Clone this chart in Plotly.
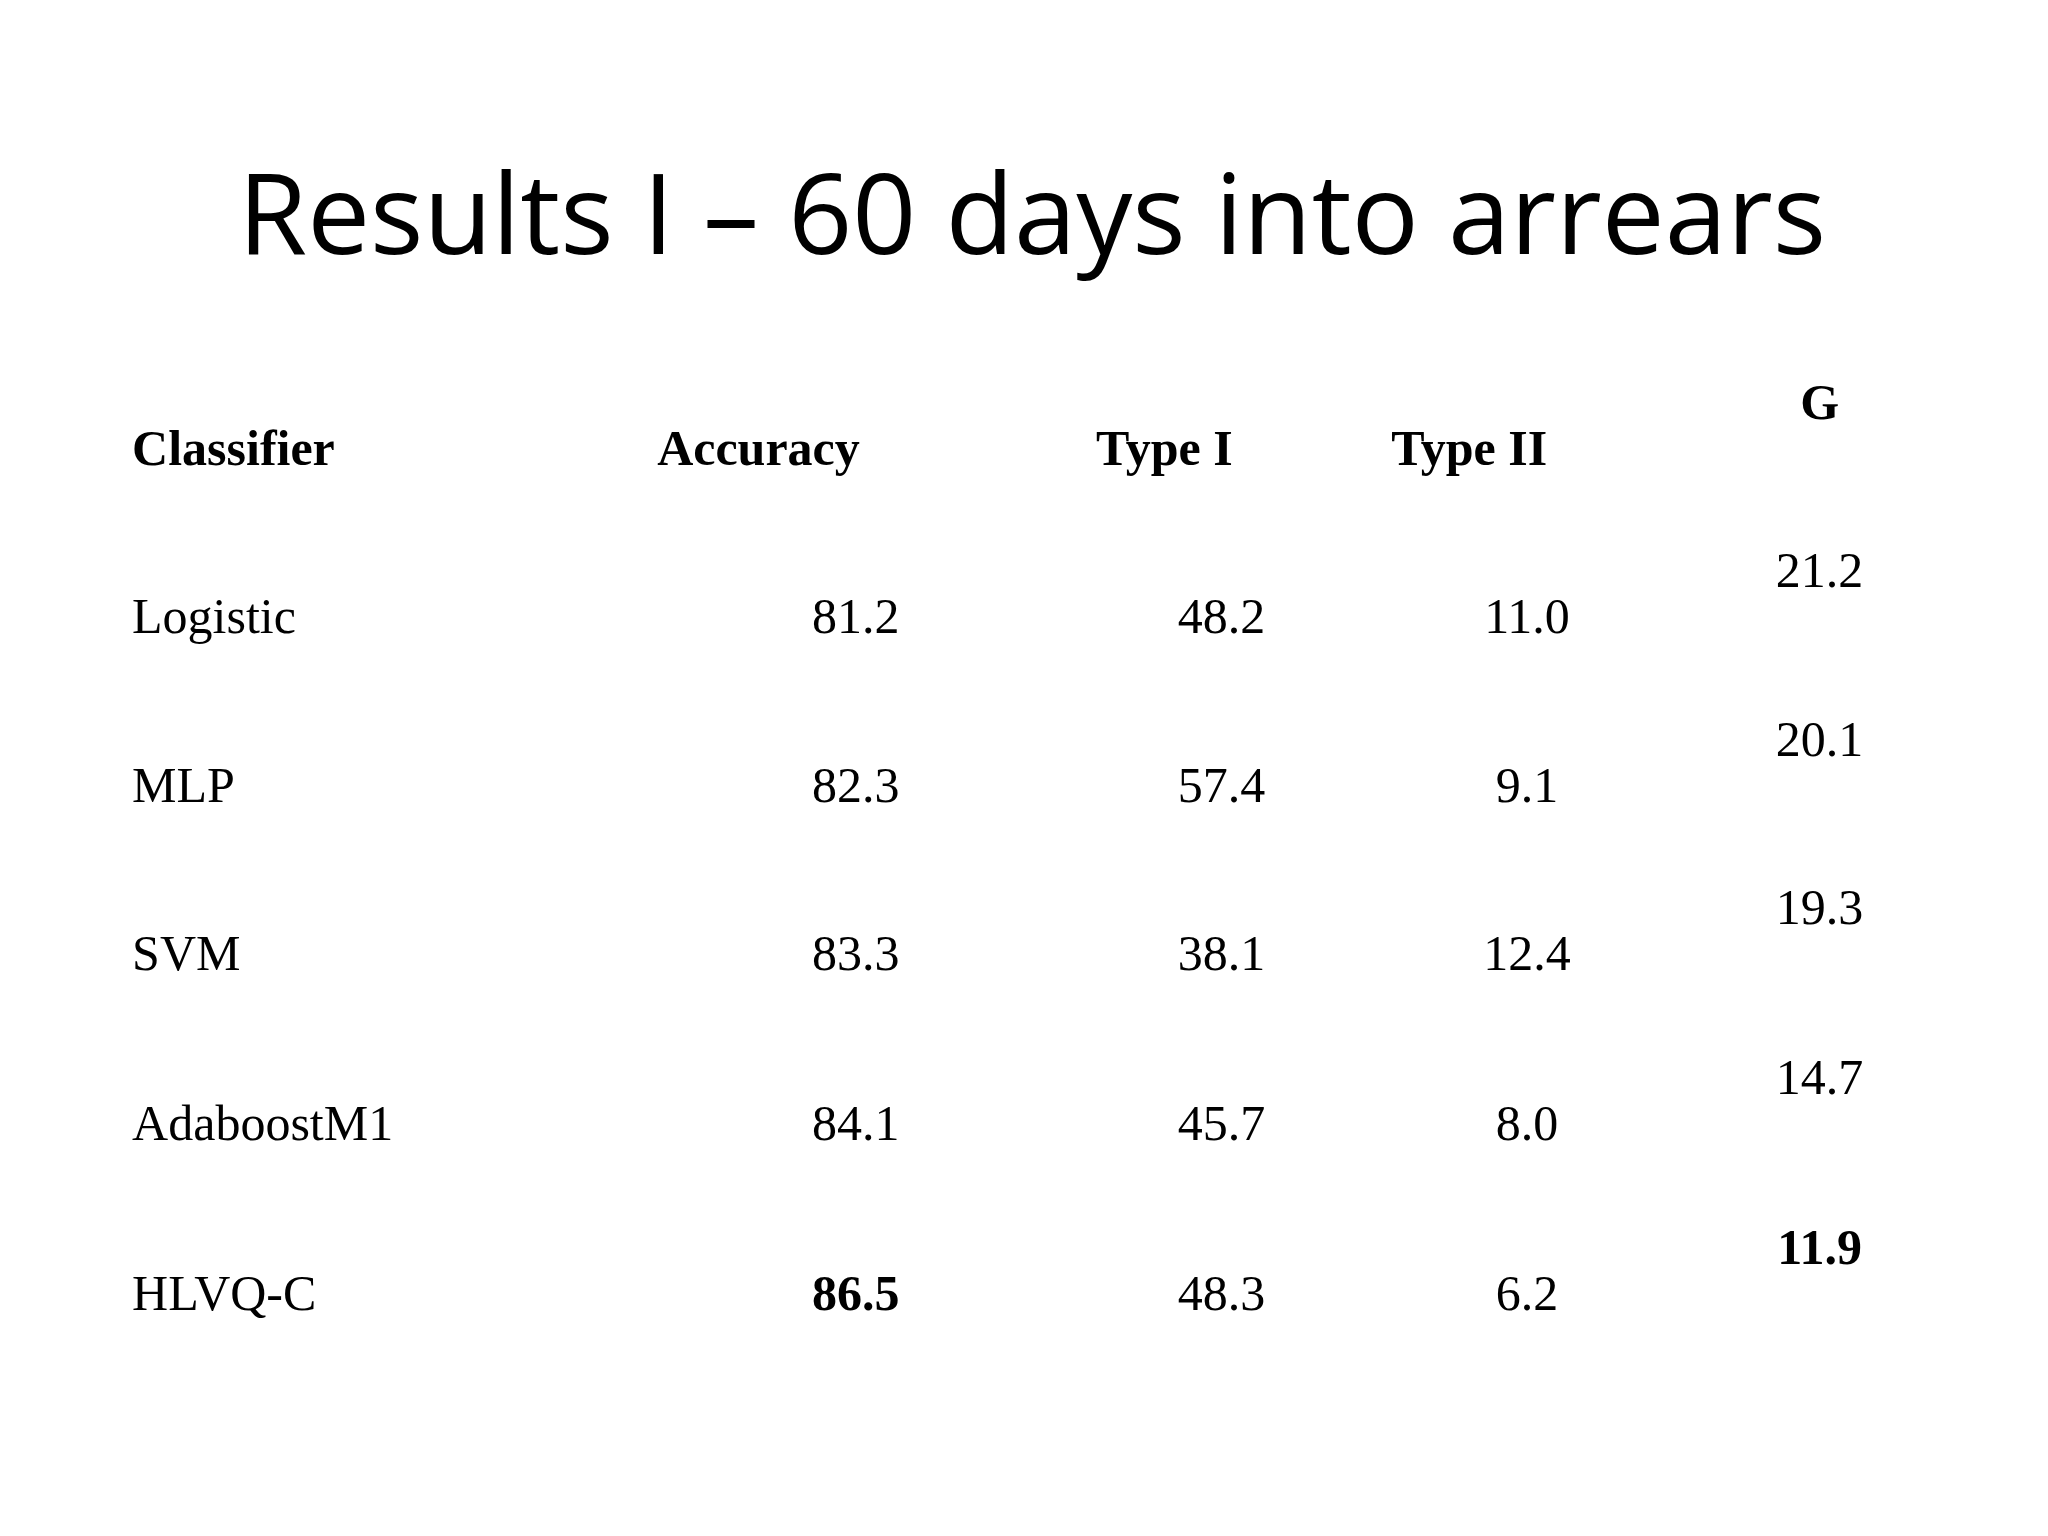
import plotly.graph_objects as go

title = "Results I – 60 days into arrears"
headers = ["Classifier", "Accuracy", "Type I", "Type II", "G"]
classifiers = ["Logistic", "MLP", "SVM", "AdaboostM1", "HLVQ-C"]
accuracy = [81.2, 82.3, 83.3, 84.1, 86.5]
type1 = [48.2, 57.4, 38.1, 45.7, 48.3]
type2 = [11.0, 9.1, 12.4, 8.0, 6.2]
g_vals = [21.2, 20.1, 19.3, 14.7, 11.9]
best_acc = 86.5
best_g = 11.9

# layout (in a 1568x1176 reference frame)
row_y = [469, 598, 727, 857, 987]
g_shift = -35
hdr_y = 340
FONT = "Liberation Serif"
FS = 50
fig = go.Figure()

def fmt(v, bold=False):
    s = f"{v:.1f}"
    return f"<b>{s}</b>" if bold else s

# headers
hx = [95, 497, 833, 1059]
fig.add_trace(go.Scatter(x=hx, y=[hdr_y]*4, mode="text", text=[f"<b>{h}</b>" for h in headers[:4]],
                         textposition="middle right", textfont=dict(family=FONT, size=FS, color="black")))
fig.add_trace(go.Scatter(x=[1387], y=[hdr_y + g_shift], mode="text", text=[f"<b>{headers[4]}</b>"],
                         textposition="middle center", textfont=dict(family=FONT, size=FS, color="black")))
# classifiers
fig.add_trace(go.Scatter(x=[95]*5, y=row_y, mode="text", text=classifiers,
                         textposition="middle right", textfont=dict(family=FONT, size=FS, color="black")))
cols = [(649, accuracy, best_acc, 0), (929, type1, None, 0), (1163, type2, None, 0), (1387, g_vals, best_g, g_shift)]
for cx, vals, best, dy in cols:
    fig.add_trace(go.Scatter(x=[cx]*len(vals), y=[y + dy for y in row_y], mode="text",
                             text=[fmt(v, best is not None and v == best) for v in vals],
                             textposition="middle center",
                             textfont=dict(family=FONT, size=FS, color="black")))

fig.update_layout(
    width=2048, height=1536, margin=dict(l=0, r=0, t=0, b=0),
    paper_bgcolor="white", plot_bgcolor="white", showlegend=False,
    xaxis=dict(range=[0, 1568], visible=False, fixedrange=True),
    yaxis=dict(range=[1176, 0], visible=False, fixedrange=True),
    annotations=[dict(text=title, x=0.5, y=1 - 155/1176, xref="paper", yref="paper",
                      showarrow=False, xanchor="center", yanchor="middle",
                      font=dict(family="Open Sans", size=112, color="black"))],
)
fig.write_html("out.html")
